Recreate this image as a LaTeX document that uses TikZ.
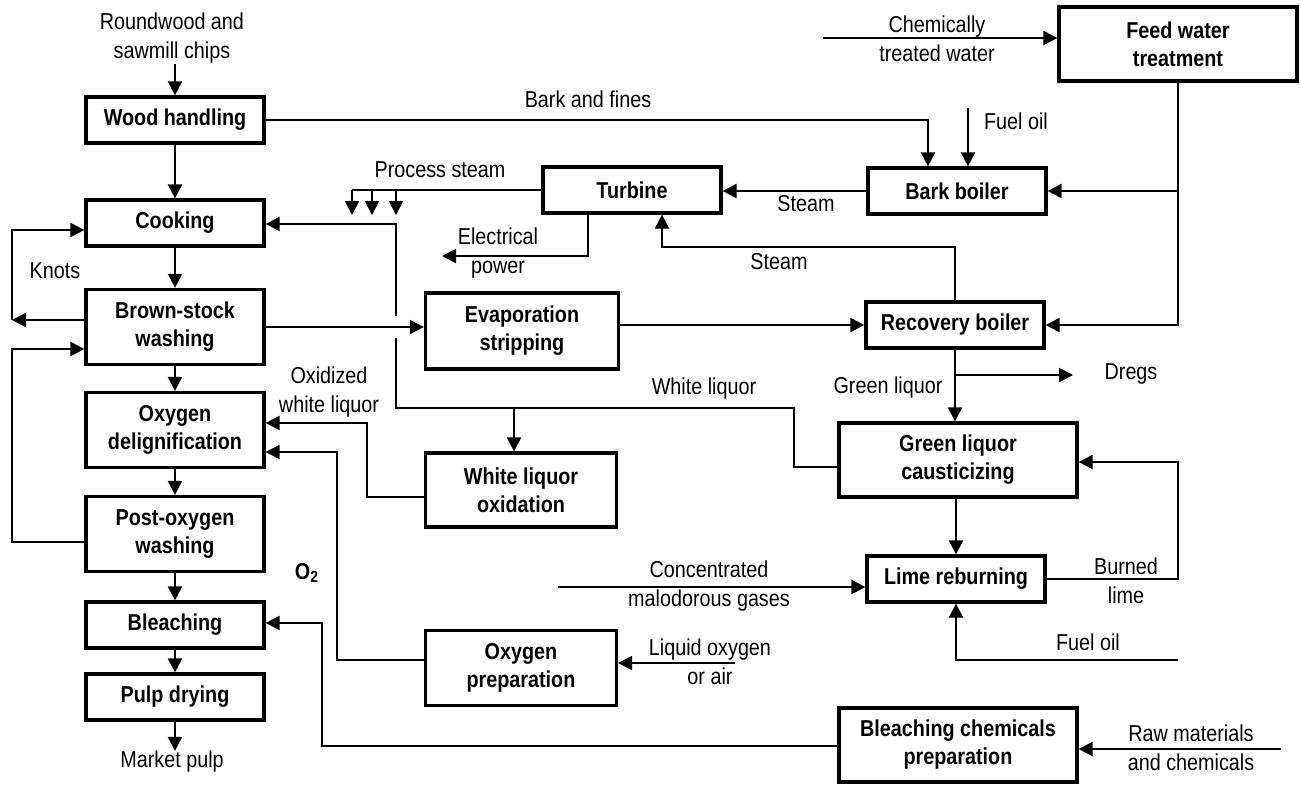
\documentclass[tikz,border=0pt]{standalone}
\usepackage{fontspec}
\setmainfont{Liberation Sans}[FakeStretch=0.86]
\usetikzlibrary{arrows.meta,positioning,calc}

\begin{document}
\begin{tikzpicture}[x=0.5pt, y=-0.5pt,
  >={Triangle[length=7pt,width=7pt]},
  unit/.style={draw, line width=1.6pt, align=center, inner sep=0pt, minimum width=89pt, minimum height=23pt, font=\fontsize{11.5}{14}\selectfont\bfseries},
  lbl/.style={align=center, inner sep=0pt, font=\fontsize{11.5}{14.5}\selectfont},
  flow/.style={line width=1pt}
]
\useasboundingbox (0,0) rectangle (1301,784);

% fibre line
\node[unit] (wood)   at (175,120) {Wood handling};
\node[unit] (cook)   at (175,223) {Cooking};
\node[unit, minimum height=37.5pt] (bsw)  at (175,327) {Brown-stock\\washing};
\node[unit, minimum height=37.5pt] (odel) at (175,430) {Oxygen\\delignification};
\node[unit, minimum height=37.5pt] (pow)  at (175,534) {Post-oxygen\\washing};
\node[unit] (bleach) at (175,625) {Bleaching};
\node[unit] (pdry)   at (175,697) {Pulp drying};

% energy and recovery
\node[unit] (turb) at (632,190) {Turbine};
\node[unit] (bark) at (957,191) {Bark boiler};
\node[unit, minimum width=119pt, minimum height=37pt] (fwt) at (1178,44) {Feed water\\treatment};
\node[unit, minimum width=96.5pt, minimum height=38pt] (evap) at (522,331) {Evaporation\\stripping};
\node[unit] (recb) at (955,325) {Recovery boiler};
\node[unit, minimum width=95.5pt, minimum height=37pt] (wlo) at (521,490) {White liquor\\oxidation};
\node[unit, minimum width=119pt, minimum height=37pt] (glc) at (958,460) {Green liquor\\causticizing};
\node[unit] (lime) at (956,579) {Lime reburning};
\node[unit, minimum width=95.5pt, minimum height=37.5pt] (oxp) at (521,668) {Oxygen\\preparation};
\node[unit, minimum width=119pt, minimum height=37pt] (bcp) at (958,745) {Bleaching chemicals\\preparation};

% labels
\node[lbl] (rw)    at (172,38)  {Roundwood and\\sawmill chips};
\node[lbl] (mp)    at (172,762) {Market pulp};
\node[lbl] (bf)    at (588,99)  {Bark and fines};
\node[lbl] (fo1)   at (1016,121) {Fuel oil};
\node[lbl] (ctw)   at (937,39)  {Chemically\\treated water};
\node[lbl] (st1)   at (806,204) {Steam};
\node[lbl] (st2)   at (779,262) {Steam};
\node[lbl] (ep)    at (498,253) {Electrical\\power};
\node[lbl] (ps)    at (440,170) {Process steam};
\node[lbl] (knots) at (55,271)  {Knots};
\node[lbl] (owl)   at (329,392) {Oxidized\\white liquor};
\node[lbl] (wl)    at (704,389) {White liquor};
\node[lbl] (gl)    at (888,388) {Green liquor};
\node[lbl] (dregs) at (1131,374) {Dregs};
\node[lbl] (o2)    at (307,573) {\textbf{O\textsubscript{2}}};
\node[lbl] (cmg)   at (709,586) {Concentrated\\malodorous gases};
\node[lbl] (blime) at (1126,581) {Burned\\lime};
\node[lbl] (fo2)   at (1088,642) {Fuel oil};
\node[lbl] (lox)   at (710,662) {Liquid oxygen\\or air};
\node[lbl] (raw)   at (1191,748) {Raw materials\\and chemicals};

% free ends
\coordinate (fo1s) at (968,108);
\coordinate (ctws) at (823,38);
\coordinate (fo2s) at (1178,660);
\coordinate (cmgs) at (558,587);
\coordinate (loxs) at (735,663);
\coordinate (raws) at (1281,749);

\begin{scope}[flow]
% main line
\draw[->] (wood.north |- rw.south) -- (wood.north);
\foreach \a/\b in {wood/cook, cook/bsw, bsw/odel, odel/pow, pow/bleach, bleach/pdry}
  \draw[->] (\a) -- (\b);
\draw[->] (pdry.south) -- (pdry.south |- mp.north);

% bark, fuel oil, feed water
\draw[->] (wood.east) -| (bark.north -| 928,0);
\draw[->] (fo1s) -- (bark.north -| fo1s);
\draw[->] (ctws) -- (fwt.west |- ctws);
\draw[->] (fwt.south) |- (recb.east);
\draw[->] (fwt.south |- bark.east) -- (bark.east);

% steam and power
\draw[->] (bark.west) -- (turb.east |- bark.west);
\draw[->] (recb.north) |- (662,247) -- (turb.south -| 662,0);
\draw[->] (turb.south -| 588,0) |- (442,256);
\draw (turb.west) -- (352,190);
\foreach \x in {352,372,396}
  \draw[->] (\x,190) -- (\x,215);

% liquors
\draw (glc.west |- 0,467) -- (794,467) -- (794,408) -- (396,408) -- (396,338);
\draw[->] (396,316) -- (396,224) -- (cook.east |- 0,224);
\draw[->] (514,408) -- (wlo.north -| 514,0);
\draw[->] (bsw.east) -- (evap.west |- bsw.east);
\draw[->] (evap.east |- recb.west) -- (recb.west);
\draw[->] (wlo.west |- 0,497) -| (367,423) -- (odel.east |- 0,423);
\draw[->] (oxp.west |- 0,660) -| (337,452) -- (odel.east |- 0,452);
\draw[->] (recb.south) -- (glc.north -| recb.south);
\draw[->] (recb.south |- 0,375) -- (1073,375);
\draw[->] (glc.south -| lime.north) -- (lime.north);
\draw[->] (lime.east) -| (1178,462) -- (glc.east |- 0,462);
\draw[->] (fo2s) -| (lime.south);
\draw[->] (cmgs) -- (lime.west |- cmgs);
\draw[->] (loxs) -- (oxp.east |- loxs);

% washing loops
\draw[->] (bsw.west |- 0,320) -- (12,320);
\draw[->] (12,320) |- (cook.west |- 0,230);
\draw[->] (pow.west |- 0,542) -| (12,349) -- (bsw.west |- 0,349);

% bleaching chemicals
\draw[->] (bcp.west |- 0,746) -| (322,623) -- (bleach.east |- 0,623);
\draw[->] (raws) -- (bcp.east |- raws);
\end{scope}
\end{tikzpicture}
\end{document}
